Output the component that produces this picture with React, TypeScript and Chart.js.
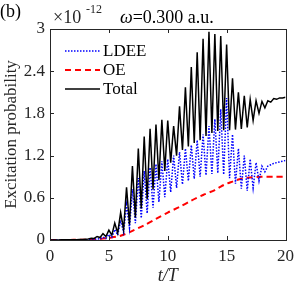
import React, { useEffect, useRef } from "react";
import { Chart, registerables } from "chart.js";

Chart.register(...registerables);

// time grid (t/T) for LDEE and Total
const tGrid = [
  0, 0.25, 0.5, 0.75, 1, 1.25, 1.5, 1.75,
  2, 2.25, 2.5, 2.75, 3, 3.25, 3.5, 3.75,
  4, 4.25, 4.5, 4.75, 5, 5.25, 5.5, 5.75,
  6, 6.25, 6.5, 6.75, 7, 7.25, 7.5, 7.75,
  8, 8.25, 8.5, 8.75, 9, 9.25, 9.5, 9.75,
  10, 10.25, 10.5, 10.75, 11, 11.25, 11.5, 11.75,
  12, 12.25, 12.5, 12.75, 13, 13.25, 13.5, 13.75,
  14, 14.25, 14.5, 14.75, 15, 15.25, 15.5, 15.75,
  16, 16.25, 16.5, 16.75, 17, 17.25, 17.5, 17.75,
  18, 18.25, 18.5, 18.75, 19, 19.25, 19.5, 19.75,
  20,
];

// Total excitation probability (x1e-12)
const totalValues = [
  0, 0, 0.001, 0.001, 0.002, 0.002, 0.003, 0.003,
  0.004, 0.005, 0.007, 0.008, 0.012, 0.015, 0.025, 0.022,
  0.05, 0.035, 0.09, 0.05, 0.14, 0.07, 0.24, 0.1,
  0.39, 0.15, 0.75, 0.22, 1.05, 0.32, 1.3, 0.45,
  1.47, 0.58, 1.58, 0.72, 1.64, 0.85, 1.71, 0.98,
  1.7, 1.1, 1.62, 1.2, 1.9, 1.28, 2.17, 1.33,
  2.46, 1.38, 2.67, 1.42, 2.86, 1.48, 2.96, 1.52,
  2.93, 1.55, 2.9, 1.56, 2.78, 1.56, 2.3, 1.57,
  2.1, 1.58, 2.05, 1.6, 2.0, 1.7, 1.98, 1.8,
  1.97, 1.88, 1.98, 1.96, 2.01, 2.0, 2.02, 2.02,
  2.03,
];

// LDEE excitation probability (x1e-12)
const ldeeValues = [
  0, 0, 0, 0, 0, 0, 0, 0.001,
  0.001, 0.001, 0.002, 0.002, 0.004, 0.003, 0.008, 0.006,
  0.02, 0.012, 0.04, 0.02, 0.08, 0.04, 0.15, 0.07,
  0.28, 0.11, 0.5, 0.17, 0.72, 0.24, 0.88, 0.31,
  0.98, 0.38, 1.03, 0.46, 1.08, 0.54, 1.12, 0.61,
  1.15, 0.68, 1.2, 0.74, 1.25, 0.79, 1.3, 0.84,
  1.35, 0.87, 1.42, 0.9, 1.5, 0.92, 1.62, 0.94,
  1.72, 0.95, 1.86, 0.93, 2.02, 0.88, 1.5, 0.8,
  1.3, 0.73, 1.2, 0.7, 1.15, 0.74, 1.1, 0.84,
  1.05, 0.97, 1.05, 1.07, 1.09, 1.1, 1.11, 1.12,
  1.13,
];

// OE excitation probability (x1e-12)
const oeTimes = [0, 1, 2, 3, 4, 5, 6, 7, 8, 9, 10, 11, 12, 13, 14, 14.5, 15, 15.5, 16, 16.5, 17, 18, 19, 20];
const oeValues = [0, 0, 0.002, 0.005, 0.012, 0.03, 0.06, 0.13, 0.21, 0.3, 0.39, 0.47, 0.56, 0.64, 0.71, 0.76, 0.8, 0.83, 0.86, 0.88, 0.89, 0.9, 0.9, 0.9];

const xTicks = [0, 5, 10, 15, 20];
const xTickLabels = ["0", "5", "10", "15", "20"];
const yTicks = [0, 0.6, 1.2, 1.8, 2.4, 3];
const yTickLabels = ["0", "0.6", "1.2", "1.8", "2.4", "3"];
const seriesNames = ["LDEE", "OE", "Total"];

const SERIF = "'Liberation Serif', 'DejaVu Serif', serif";
const AXIS_COLOR = "#262626";

export default function App() {
  const ref = useRef<HTMLCanvasElement>(null);

  useEffect(() => {
    const canvas = ref.current;
    if (!canvas) return;

    const framePlugin = {
      id: "frameAndDecor",
      afterDatasetsDraw(chart: any) {
        const { ctx, chartArea } = chart;
        const { left, right, top, bottom } = chartArea;
        const xs = chart.scales.x;
        const ys = chart.scales.y;
        ctx.save();
        ctx.strokeStyle = AXIS_COLOR;
        ctx.lineWidth = 1;
        ctx.setLineDash([]);
        ctx.strokeRect(Math.round(left) + 0.5, Math.round(top) + 0.5, Math.round(right - left), Math.round(bottom - top));
        const tl = 4;
        ctx.beginPath();
        xTicks.forEach((v) => {
          const px = Math.round(xs.getPixelForValue(v)) + 0.5;
          ctx.moveTo(px, bottom);
          ctx.lineTo(px, bottom - tl);
          ctx.moveTo(px, top);
          ctx.lineTo(px, top + tl);
        });
        yTicks.forEach((v) => {
          const py = Math.round(ys.getPixelForValue(v)) + 0.5;
          ctx.moveTo(left, py);
          ctx.lineTo(left + tl, py);
          ctx.moveTo(right, py);
          ctx.lineTo(right - tl, py);
        });
        ctx.stroke();

        // legend
        const styles = [
          { color: "#0000ff", dash: [1.5, 1.5], width: 1.5 },
          { color: "#ff0000", dash: [6, 4], width: 2 },
          { color: "#000000", dash: [], width: 1.5 },
        ];
        const rows = [51, 70, 89];
        ctx.font = `17px ${SERIF}`;
        ctx.textBaseline = "middle";
        ctx.textAlign = "left";
        seriesNames.forEach((name, i) => {
          const s = styles[i];
          ctx.beginPath();
          ctx.strokeStyle = s.color;
          ctx.lineWidth = s.width;
          ctx.setLineDash(s.dash);
          ctx.moveTo(65, rows[i]);
          ctx.lineTo(100, rows[i]);
          ctx.stroke();
          ctx.setLineDash([]);
          ctx.fillStyle = "#000";
          ctx.fillText(name, 103, rows[i] + 1);
        });

        // header texts
        ctx.fillStyle = "#000";
        ctx.textBaseline = "alphabetic";
        ctx.font = `18px ${SERIF}`;
        ctx.fillText("(b)", 0, 17);
        ctx.fillStyle = AXIS_COLOR;
        ctx.font = `18px ${SERIF}`;
        ctx.fillText("\u00d710", 53, 23);
        ctx.font = `12px ${SERIF}`;
        ctx.fillText("-12", 86, 13);
        ctx.fillStyle = "#000";
        ctx.font = `italic 18px ${SERIF}`;
        ctx.fillText("\u03c9", 120, 23);
        const wW = ctx.measureText("\u03c9").width;
        ctx.font = `18px ${SERIF}`;
        ctx.fillText("=0.300 a.u.", 120 + wW, 23);
        ctx.restore();
      },
    };

    const chart = new Chart(canvas, {
      type: "line",
      data: {
        datasets: [
          {
            label: seriesNames[2],
            data: tGrid.map((t, i) => ({ x: t, y: totalValues[i] })),
            borderColor: "#000000",
            borderWidth: 1.5,
            pointRadius: 0,
            tension: 0,
            order: 0,
          },
          {
            label: seriesNames[0],
            data: tGrid.map((t, i) => ({ x: t, y: ldeeValues[i] })),
            borderColor: "#0000ff",
            borderWidth: 1.5,
            borderDash: [1.5, 1.5],
            pointRadius: 0,
            tension: 0,
            order: 1,
          },
          {
            label: seriesNames[1],
            data: oeTimes.map((t, i) => ({ x: t, y: oeValues[i] })),
            borderColor: "#ff0000",
            borderWidth: 2,
            borderDash: [6, 4],
            pointRadius: 0,
            tension: 0.3,
            order: 2,
          },
        ],
      },
      options: {
        responsive: false,
        animation: false,
        layout: { padding: { left: 0, right: 11, top: 29, bottom: 0 } },
        plugins: { legend: { display: false }, tooltip: { enabled: false } },
        scales: {
          x: {
            type: "linear",
            min: 0,
            max: 20,
            afterFit: (s: any) => {
              s.height = 49;
            },
            afterBuildTicks: (s: any) => {
              s.ticks = xTicks.map((v) => ({ value: v }));
            },
            ticks: {
              font: { family: SERIF, size: 17 },
              color: AXIS_COLOR,
              padding: 6,
              maxRotation: 0,
              autoSkip: false,
              callback: (_v: any, i: number) => xTickLabels[i],
            },
            grid: { display: false, drawTicks: false },
            border: { display: false },
            title: {
              display: true,
              text: "t/T",
              color: AXIS_COLOR,
              font: { family: SERIF, size: 18, style: "italic" },
              padding: { top: 0, bottom: 2 },
            },
          },
          y: {
            type: "linear",
            min: 0,
            max: 3,
            afterFit: (s: any) => {
              s.width = 50;
            },
            afterBuildTicks: (s: any) => {
              s.ticks = yTicks.map((v) => ({ value: v }));
            },
            ticks: {
              font: { family: SERIF, size: 17 },
              color: AXIS_COLOR,
              padding: 5,
              autoSkip: false,
              callback: (_v: any, i: number) => yTickLabels[i],
            },
            grid: { display: false, drawTicks: false },
            border: { display: false },
            title: {
              display: true,
              text: "Excitation probability",
              color: AXIS_COLOR,
              font: { family: SERIF, size: 17 },
              padding: { top: 1, bottom: 0 },
            },
          },
        },
      },
      plugins: [framePlugin],
    });

    return () => chart.destroy();
  }, []);

  return (
    <div style={{ position: "fixed", left: 0, top: 0, width: 300, height: 289, background: "#fff" }}>
      <canvas ref={ref} width={300} height={289} style={{ display: "block" }} />
    </div>
  );
}
